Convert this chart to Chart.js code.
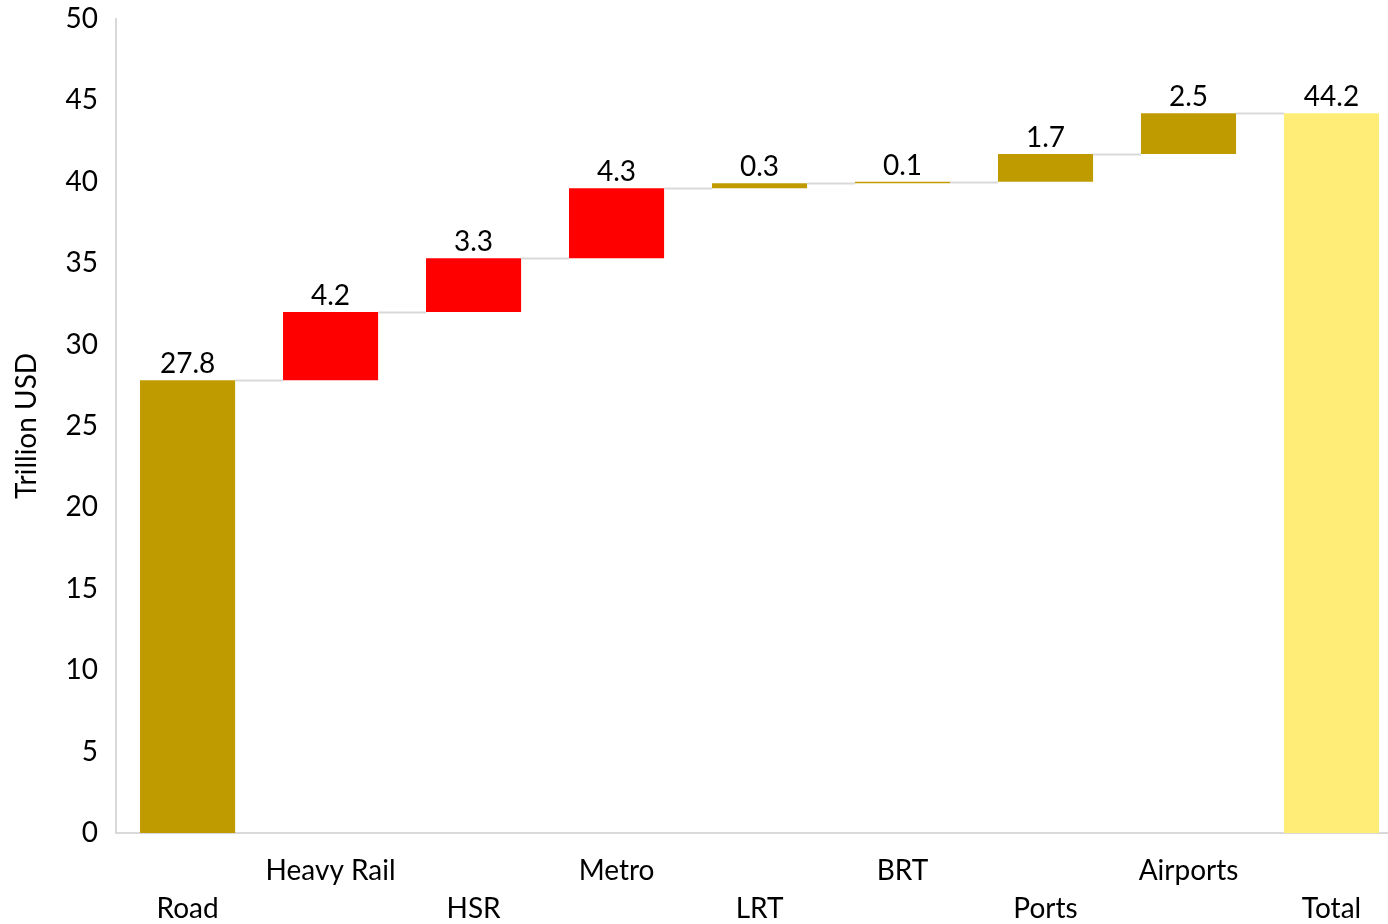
<!DOCTYPE html>
<html>
<head>
<meta charset="utf-8">
<script src="https://cdn.jsdelivr.net/npm/chart.js@4"></script>
<style>
  html, body { margin: 0; padding: 0; background: #fff; overflow: hidden; }
  #wrap { width: 1388px; height: 924px; overflow: hidden; }
  #chart { display: block; margin-top: -16px; margin-left: -4px; }
</style>
</head>
<body>
<div id="wrap"><canvas id="chart" width="1407" height="960"></canvas></div>
<script>
const categories = ['Road', 'Heavy Rail', 'HSR', 'Metro', 'LRT', 'BRT', 'Ports', 'Airports', 'Total'];
const values = [27.8, 4.2, 3.3, 4.3, 0.3, 0.1, 1.7, 2.5, 44.2];
const isTotal = [false, false, false, false, false, false, false, false, true];
const barColors = ['#BF9B00', '#FF0000', '#FF0000', '#FF0000', '#BF9B00', '#BF9B00', '#BF9B00', '#BF9B00', '#FFED78'];
const yTicks = [0, 5, 10, 15, 20, 25, 30, 35, 40, 45, 50];

const FONT = 'Lato, "Open Sans", sans-serif';

// floating bars: [start, end]
let running = 0;
const ranges = values.map((v, i) => {
    if (isTotal[i]) { running = v; return [0, v]; }
    const r = [running, running + v];
    running += v;
    return r;
});

// alternate rows for x labels
const xLabels = categories.map((c, i) => i % 2 === 0 ? ['', c] : [c, '']);

const waterfallExtras = {
    id: 'waterfallExtras',
    afterDatasetsDraw(chart) {
        const ctx = chart.ctx;
        const meta = chart.getDatasetMeta(0);
        const y = chart.scales.y;
        ctx.save();
        // connectors
        ctx.strokeStyle = '#D9D9D9';
        ctx.lineWidth = 2;
        for (let i = 0; i < meta.data.length - 1; i++) {
            const a = meta.data[i], b = meta.data[i + 1];
            const level = ranges[i][1];
            const py = Math.round(y.getPixelForValue(level)) + 0.5;
            ctx.beginPath();
            ctx.moveTo(a.x + a.width / 2, py);
            ctx.lineTo(b.x - b.width / 2, py);
            ctx.stroke();
        }
        // value labels
        ctx.fillStyle = '#000';
        ctx.font = '28px ' + FONT;
        ctx.textAlign = 'center';
        ctx.textBaseline = 'bottom';
        meta.data.forEach((bar, i) => {
            const top = y.getPixelForValue(ranges[i][1]);
            ctx.fillText(values[i].toFixed(1), bar.x, top - 2);
        });
        ctx.restore();
    }
};

new Chart(document.getElementById('chart'), {
    type: 'bar',
    data: {
        labels: xLabels,
        datasets: [{
            data: ranges,
            backgroundColor: barColors,
            borderWidth: 0,
            barPercentage: 0.665,
            categoryPercentage: 1
        }]
    },
    options: {
        responsive: false,
        animation: false,
        devicePixelRatio: 1,
        layout: { padding: { top: -14, right: 0, left: 2, bottom: -3 } },
        plugins: {
            legend: { display: false },
            tooltip: { enabled: false }
        },
        scales: {
            x: {
                grid: { display: false, drawTicks: false },
                border: { color: '#D9D9D9', width: 2 },
                ticks: {
                    color: '#000',
                    font: { family: FONT, size: 28, lineHeight: 1.357 },
                    padding: 19,
                    maxRotation: 0,
                    autoSkip: false
                }
            },
            y: {
                min: 0,
                max: 50,
                afterBuildTicks: (axis) => { axis.ticks = yTicks.map(v => ({ value: v })); },
                grid: { display: false, drawTicks: false },
                border: { color: '#D9D9D9', width: 2 },
                ticks: {
                    color: '#000',
                    font: { family: FONT, size: 28 },
                    padding: 18
                },
                title: {
                    display: true,
                    text: 'Trillion USD',
                    color: '#000',
                    font: { family: FONT, size: 28 },
                    padding: { top: 12, bottom: 4 }
                }
            }
        }
    },
    plugins: [waterfallExtras]
});
</script>
</body>
</html>
